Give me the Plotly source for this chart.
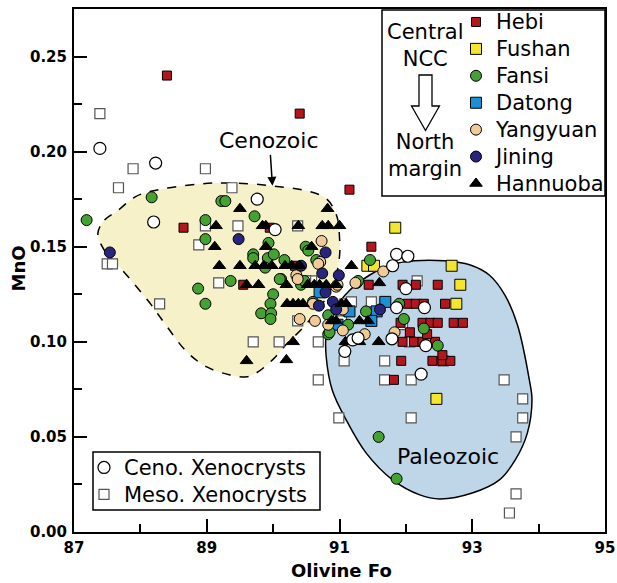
import plotly.graph_objects as go

# ---------------- data ----------------
hebi_x = [88.4, 90.4, 91.15, 88.65, 89.95, 89.55, 91.48, 91.44, 90.33,
          91.95, 92.15, 92.48,
          92.03, 92.15, 92.27, 92.59,
          91.92, 92.25, 92.37, 92.48, 92.72, 92.86,
          92.06, 91.95, 92.12, 92.25, 92.44, 92.32,
          91.93, 92.4, 92.55, 92.67, 92.55, 91.82]
hebi_y = [0.24, 0.22, 0.18, 0.16, 0.16, 0.13, 0.15, 0.13, 0.14,
          0.13, 0.13, 0.13,
          0.12, 0.12, 0.12, 0.12,
          0.11, 0.11, 0.11, 0.11, 0.11, 0.11,
          0.105, 0.10, 0.10, 0.10, 0.10, 0.104,
          0.09, 0.09, 0.09, 0.09, 0.093, 0.08]

fushan_x = [91.84, 92.69, 92.82, 92.76, 92.46, 91.42, 91.52]
fushan_y = [0.16, 0.14, 0.13, 0.12, 0.07, 0.14, 0.14]

fansi_x = [87.19, 88.17, 88.98, 88.98, 88.87, 88.98, 89.22, 89.28, 89.72, 89.70,
           89.70, 89.93, 89.92, 90.17, 90.49, 90.65, 89.36, 90.12, 90.42, 90.00,
           89.82, 89.96, 89.97, 89.96, 90.01, 90.60, 91.26, 90.83, 91.13, 90.85,
           90.83, 91.40, 91.97, 92.27, 92.48, 91.59, 91.86, 91.46, 91.90, 90.47,
           89.88, 90.10, 90.53, 91.28]
fansi_y = [0.164, 0.176, 0.164, 0.154, 0.128, 0.120, 0.174, 0.174, 0.166, 0.146,
           0.144, 0.152, 0.144, 0.143, 0.150, 0.143, 0.132, 0.133, 0.130, 0.125,
           0.115, 0.120, 0.115, 0.112, 0.146, 0.121, 0.131, 0.104, 0.109, 0.105,
           0.114, 0.116, 0.112, 0.107, 0.098, 0.050, 0.028, 0.143, 0.120, 0.132,
           0.139, 0.133, 0.148, 0.132]

datong_x = [91.69, 91.56, 91.48, 90.70, 91.15, 90.97]
datong_y = [0.121, 0.116, 0.111, 0.126, 0.116, 0.109]

yangyuan_x = [90.73, 90.71, 90.35, 90.60, 91.24, 90.68, 90.37, 90.95, 90.40, 90.63,
              90.83, 91.66, 91.38, 91.05, 91.05, 91.83, 90.97]
yangyuan_y = [0.153, 0.142, 0.135, 0.120, 0.131, 0.141, 0.133, 0.129, 0.112, 0.111,
              0.109, 0.137, 0.104, 0.117, 0.106, 0.105, 0.130]

jining_x = [87.54, 89.48, 90.79, 90.74, 90.99, 90.79, 90.69, 90.90, 91.61, 90.42, 90.95]
jining_y = [0.147, 0.154, 0.147, 0.136, 0.135, 0.126, 0.119, 0.121, 0.117, 0.140, 0.117]

hannuoba_x = [89.50, 90.82,
              89.14, 89.84, 89.89, 90.38, 90.74, 90.83, 91.00,
              89.12, 89.89, 90.58,
              89.19, 89.50, 89.73, 89.86, 89.98, 90.18, 90.28, 90.40, 91.18,
              89.60, 89.78, 90.20, 90.52, 90.62, 90.70, 90.80, 90.95, 91.60,
              90.21, 90.30, 90.38, 90.45, 91.03, 91.10,
              90.88, 90.95, 91.30, 91.43,
              90.30, 91.09, 91.30, 91.59,
              89.60, 90.20]
hannuoba_y = [0.170, 0.170,
              0.161, 0.161, 0.161, 0.161, 0.161, 0.161, 0.161,
              0.150, 0.150, 0.150,
              0.140, 0.140, 0.140, 0.140, 0.140, 0.140, 0.140, 0.140, 0.140,
              0.130, 0.130, 0.130, 0.130, 0.130, 0.130, 0.130, 0.130, 0.131,
              0.120, 0.120, 0.120, 0.120, 0.120, 0.120,
              0.111, 0.111, 0.111, 0.111,
              0.100, 0.100, 0.100, 0.100,
              0.090, 0.0905]

ceno_x = [87.39, 88.23, 88.20, 89.76, 90.03, 91.86, 92.03, 91.80, 92.00, 91.86,
          92.28, 91.79, 92.30, 91.20, 91.08, 92.23, 91.28]
ceno_y = [0.2017, 0.194, 0.163, 0.175, 0.159, 0.146, 0.145, 0.140, 0.128, 0.118,
          0.118, 0.1016, 0.098, 0.101, 0.095, 0.083, 0.102]

meso_x = [87.39, 87.89, 87.67, 88.98, 89.38, 89.47, 88.98, 88.88, 87.50, 87.58,
          89.18, 90.37, 88.29, 89.70, 90.09, 90.37, 90.58, 90.68, 91.08, 92.17,
          91.18, 91.48, 91.03, 91.07, 91.68, 92.56, 91.68, 92.08, 90.68, 93.48,
          93.76, 93.76, 93.66, 90.99, 92.08, 93.66, 93.56, 90.49, 91.95, 92.06]
meso_y = [0.220, 0.191, 0.181, 0.191, 0.181, 0.161, 0.161, 0.151, 0.141, 0.141,
          0.131, 0.161, 0.120, 0.100, 0.100, 0.111, 0.132, 0.100, 0.120, 0.132,
          0.121, 0.121, 0.111, 0.090, 0.090, 0.090, 0.080, 0.080, 0.080, 0.080,
          0.070, 0.060, 0.050, 0.060, 0.060, 0.020, 0.010, 0.132, 0.109, 0.100]

# region outlines (field boundaries)
ceno_field_x = [87.36, 87.46, 87.66, 87.91, 88.14, 88.89, 89.39, 89.99, 90.55, 90.81,
                90.96, 91.00, 91.00, 90.94, 90.78, 90.44, 90.22, 89.99, 89.75, 89.60,
                89.35, 89.00, 88.70, 88.40, 88.14, 87.72, 87.46, 87.36]
ceno_field_y = [0.157, 0.164, 0.169, 0.176, 0.179, 0.183, 0.1835, 0.182, 0.179, 0.175,
                0.166, 0.155, 0.145, 0.134, 0.122, 0.107, 0.0995, 0.0905, 0.0837, 0.0816,
                0.0826, 0.0868, 0.0947, 0.108, 0.1205, 0.138, 0.148, 0.157]
paleo_field_x = [90.80, 90.93, 91.15, 91.45, 91.78, 92.13, 92.58, 92.96, 93.26, 93.49,
                 93.68, 93.86, 93.90, 93.83, 93.65, 93.41, 93.00, 92.51, 92.21, 91.80,
                 91.40, 91.10, 90.89, 90.80, 90.80]
paleo_field_y = [0.1037, 0.117, 0.127, 0.135, 0.1405, 0.1426, 0.1426, 0.1405, 0.135, 0.1247,
                 0.109, 0.080, 0.0695, 0.052, 0.038, 0.0274, 0.0205, 0.0174, 0.0195, 0.0274,
                 0.0416, 0.059, 0.0747, 0.092, 0.1037]

# ---------------- layout constants ----------------
W, H = 617, 583
PL, PR, PT, PB = 74, 605, 9, 532
FONT = "DejaVu Sans"
LEG_TXT = 21       # visible legend text size
LEG_ROW = 18.4     # legend font size that sets row spacing


def px(xp):
    return (xp - PL) / (PR - PL)


def py(yp):
    return (PB - yp) / (PB - PT)


def big(s):
    return f'<span style="font-size:{LEG_TXT}px">{s}</span>'


fig = go.Figure()

fig.add_trace(go.Scatter(x=ceno_field_x, y=ceno_field_y, mode="lines", fill="toself",
                         fillcolor="#f6f1c9", line=dict(color="black", width=1.5, dash="dash",
                                                        shape="spline", smoothing=1.0),
                         showlegend=False, hoverinfo="skip"))
fig.add_trace(go.Scatter(x=paleo_field_x, y=paleo_field_y, mode="lines", fill="toself",
                         fillcolor="#bfd5e8", line=dict(color="black", width=1.5,
                                                        shape="spline", smoothing=1.0),
                         showlegend=False, hoverinfo="skip"))


def pts(x, y, name, symbol, size, color, lcolor="black", lw=1, legend="legend", rank=1):
    fig.add_trace(go.Scatter(x=x, y=y, mode="markers", name=big(name), legend=legend,
                             legendrank=rank,
                             marker=dict(symbol=symbol, size=size, color=color,
                                         line=dict(color=lcolor, width=lw))))


pts(meso_x, meso_y, "Meso. Xenocrysts", "square", 10, "white", "#555555", 1.2, "legend2", 2)
pts(hebi_x, hebi_y, "Hebi", "square", 9, "#b3161d", rank=1)
pts(fushan_x, fushan_y, "Fushan", "square", 11, "#f4e62c", rank=2)
pts(datong_x, datong_y, "Datong", "square", 11, "#1c8fd6", rank=4)
pts(fansi_x, fansi_y, "Fansi", "circle", 11, "#44a132", rank=3)
pts(yangyuan_x, yangyuan_y, "Yangyuan", "circle", 11, "#f1cb97", rank=5)
pts(jining_x, jining_y, "Jining", "circle", 11, "#29247c", rank=6)
pts(hannuoba_x, hannuoba_y, "Hannuoba", "triangle-up", 11, "black", rank=7)
pts(ceno_x, ceno_y, "Ceno. Xenocrysts", "circle", 12, "white", "black", 1.2, "legend2", 1)

axis_common = dict(showline=True, linecolor="black", linewidth=2, mirror=True,
                   ticks="inside", ticklen=13, tickwidth=2, tickcolor="black",
                   showgrid=False, zeroline=False,
                   tickfont=dict(family=FONT, size=15, color="black", weight="bold"))

fig.update_layout(
    width=W, height=H,
    margin=dict(l=PL, r=W - PR, t=PT, b=H - PB, autoexpand=False),
    paper_bgcolor="white", plot_bgcolor="white",
    xaxis=dict(range=[87, 95], tickvals=[87, 89, 91, 93, 95],
               minor=dict(dtick=1, ticks="inside", ticklen=8, tickwidth=2, tickcolor="black"),
               ticklabelstandoff=1, **axis_common),
    yaxis=dict(range=[0, 0.275], tickvals=[0, 0.05, 0.10, 0.15, 0.20, 0.25], tickformat=".2f",
               minor=dict(dtick=0.025, ticks="inside", ticklen=8, tickwidth=2, tickcolor="black"),
               ticklabelstandoff=2, **axis_common),
    legend=dict(x=px(456), y=py(3.5), xanchor="left", yanchor="top",
                bgcolor="rgba(0,0,0,0)", borderwidth=0, itemsizing="trace",
                tracegroupgap=0, traceorder="normal",
                font=dict(family=FONT, size=LEG_ROW, color="black")),
    legend2=dict(x=px(84), y=py(449), xanchor="left", yanchor="top",
                 bgcolor="rgba(0,0,0,0)", borderwidth=0, itemsizing="trace",
                 tracegroupgap=0, traceorder="normal",
                 font=dict(family=FONT, size=LEG_ROW, color="black")),
    showlegend=True,
)

# axis titles
fig.add_annotation(xref="paper", yref="paper", x=px(341), y=py(570), text="<b>Olivine Fo</b>",
                   showarrow=False, font=dict(family=FONT, size=18, color="black"),
                   xanchor="center", yanchor="middle")
fig.add_annotation(xref="paper", yref="paper", x=px(17.5), y=py(269), text="<b>MnO</b>",
                   textangle=-90, showarrow=False, font=dict(family=FONT, size=18, color="black"),
                   xanchor="center", yanchor="middle")

# legend boxes
fig.add_shape(type="rect", xref="paper", yref="paper", x0=px(382), x1=px(605),
              y0=py(196), y1=py(10), line=dict(color="black", width=1.5), fillcolor="white",
              layer="below")
fig.add_shape(type="rect", xref="paper", yref="paper", x0=px(93), x1=px(320),
              y0=py(510), y1=py(452), line=dict(color="black", width=1.5), fillcolor="white",
              layer="below")

# hollow arrow Central NCC -> North margin
arrow_pts = [(419, 75), (432, 75), (432, 106), (439.5, 106), (425.5, 130.5),
             (411.5, 106), (419, 106)]
path = "M " + " L ".join(f"{px(a):.5f},{py(b):.5f}" for a, b in arrow_pts) + " Z"
fig.add_shape(type="path", xref="paper", yref="paper", path=path,
              line=dict(color="black", width=1.3), fillcolor="white")

fig.add_annotation(xref="paper", yref="paper", x=px(425), y=py(45), text="Central<br>NCC",
                   showarrow=False, font=dict(family=FONT, size=21, color="black"),
                   xanchor="center", yanchor="middle")
fig.add_annotation(xref="paper", yref="paper", x=px(425), y=py(156), text="North<br>margin",
                   showarrow=False, font=dict(family=FONT, size=21, color="black"),
                   xanchor="center", yanchor="middle")

fig.add_annotation(x=89.99, y=0.182, xref="x", yref="y", text="Cenozoic",
                   showarrow=True, ax=-3, ay=-45, arrowhead=2, arrowsize=1.2,
                   arrowwidth=1.5, arrowcolor="black",
                   font=dict(family=FONT, size=22, color="black"))
fig.add_annotation(x=92.64, y=0.0395, xref="x", yref="y", text="Paleozoic",
                   showarrow=False, font=dict(family=FONT, size=22, color="black"))

fig.write_html("out.html",
               config={"displayModeBar": False},
               post_script="document.body.style.margin='0px';"
                           "document.documentElement.style.overflow='hidden';")
